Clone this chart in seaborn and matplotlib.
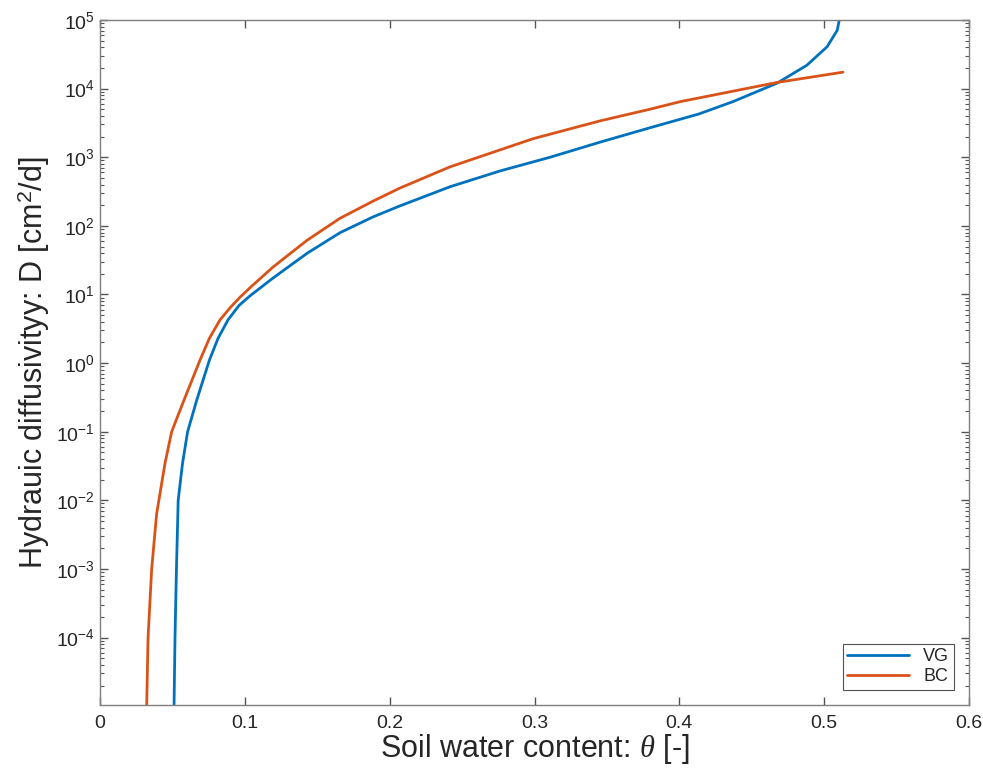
import numpy as np
import pandas as pd
import seaborn as sns
import matplotlib.pyplot as plt
from matplotlib.ticker import LogLocator, NullFormatter

# values (theta, log10 D)
vg_theta = [0.0511, 0.0518, 0.0528, 0.0540, 0.0570, 0.0605, 0.0668, 0.0755, 0.0815, 0.0884,
            0.0960, 0.1036, 0.1195, 0.1430, 0.1657, 0.1885, 0.2070, 0.2417, 0.2762, 0.3108,
            0.3453, 0.3798, 0.4134, 0.4370, 0.4675, 0.4880, 0.5020, 0.5090, 0.5104, 0.5112]
vg_logD = [-5.05, -4.0, -3.0, -2.0, -1.46, -1.0, -0.54, 0.04, 0.36, 0.63,
           0.84, 0.98, 1.24, 1.60, 1.90, 2.13, 2.29, 2.57, 2.80, 3.00,
           3.22, 3.43, 3.63, 3.81, 4.08, 4.34, 4.61, 4.85, 5.0, 5.3]

bc_theta = [0.0322, 0.0332, 0.0357, 0.0391, 0.0449, 0.0495, 0.0580, 0.0690, 0.0755, 0.0829,
            0.0900, 0.0967, 0.1047, 0.1195, 0.1430, 0.1657, 0.1885, 0.2070, 0.2417, 0.2990,
            0.3453, 0.3798, 0.4006, 0.4675, 0.5130]
bc_logD = [-5.05, -4.0, -3.0, -2.2, -1.46, -1.0, -0.54, 0.04, 0.36, 0.63,
           0.81, 0.96, 1.12, 1.40, 1.79, 2.11, 2.36, 2.55, 2.86, 3.27,
           3.53, 3.70, 3.81, 4.09, 4.24]

x_ticks = [0, 0.1, 0.2, 0.3, 0.4, 0.5, 0.6]
x_labels = ['0', '0.1', '0.2', '0.3', '0.4', '0.5', '0.6']

df = pd.concat([
    pd.DataFrame({'theta': vg_theta, 'D': np.power(10.0, vg_logD), 'model': 'VG'}),
    pd.DataFrame({'theta': bc_theta, 'D': np.power(10.0, bc_logD), 'model': 'BC'}),
])

sns.set_style('ticks')
plt.rcParams['font.family'] = ['Liberation Sans', 'DejaVu Sans']
plt.rcParams['mathtext.fontset'] = 'custom'
plt.rcParams['mathtext.rm'] = 'Liberation Sans'
plt.rcParams['mathtext.it'] = 'Liberation Serif:italic'
plt.rcParams['axes.unicode_minus'] = False

fig = plt.figure(figsize=(9.83, 7.69), dpi=100)
ax = fig.add_axes([0.1017, 0.0832, 0.8841, 0.8908])

sns.lineplot(data=df, x='theta', y='D', hue='model', palette={'VG': '#0072BD', 'BC': '#D95319'},
             estimator=None, sort=False, linewidth=2.0, ax=ax, legend=False)

ax.set_yscale('log')
ax.set_xlim(0, 0.6)
ax.set_ylim(1.04e-5, 1e5)
ax.set_xticks(x_ticks)
ax.set_xticklabels(x_labels)
ax.yaxis.set_major_locator(LogLocator(base=10, numticks=20))
ax.yaxis.set_minor_locator(LogLocator(base=10, subs=np.arange(2, 10), numticks=20))
ax.yaxis.set_minor_formatter(NullFormatter())

for s in ax.spines.values():
    s.set_color('#7f7f7f')
    s.set_linewidth(1.0)
ax.tick_params(which='both', direction='in', top=True, right=True, color='#555555',
               labelcolor='#262626', labelsize=14)
ax.tick_params(which='major', length=6, width=1.0)
ax.tick_params(which='minor', length=3, width=0.8)
ax.tick_params(axis='x', pad=7)

ax.set_xlabel(r'Soil water content: $\mathit{\theta}$ [-]', fontsize=22, color='#262626', labelpad=0)
ax.set_ylabel(r'Hydrauic diffusivityy: D [cm$^2$/d]', fontsize=22, color='#262626', labelpad=3)

h = [plt.Line2D([], [], color='#0072BD', lw=2.0), plt.Line2D([], [], color='#D95319', lw=2.0)]
leg = ax.legend(h, ['VG', 'BC'], loc='lower right', fontsize=13, frameon=True, fancybox=False,
                borderaxespad=0.85, handlelength=3.4, borderpad=0.25, labelspacing=0.15)
leg.get_frame().set_edgecolor('#262626')
leg.get_frame().set_linewidth(0.8)

fig.savefig('out.png', dpi=100)
